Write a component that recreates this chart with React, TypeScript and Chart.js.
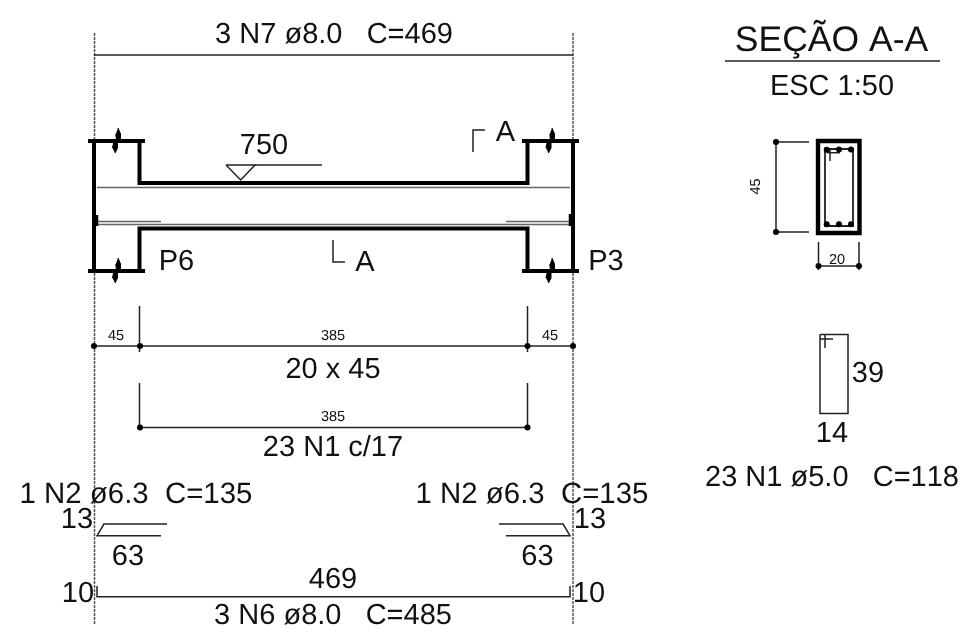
import React, { useEffect, useRef } from "react";
import { Chart, registerables } from "chart.js";

Chart.register(...registerables);

type P = [number, number];

// Drawing geometry, in drawing units of the sheet
const heavyLines: P[][] = [
  [[94, 141], [94, 271]],
  [[88, 141], [145, 141]],
  [[88, 271], [145, 271]],
  [[139.5, 141], [139.5, 183], [527.5, 183], [527.5, 141]],
  [[139.5, 271], [139.5, 228.5], [527.5, 228.5], [527.5, 271]],
  [[573, 141], [573, 271]],
  [[522, 141], [579, 141]],
  [[522, 271], [579, 271]],
];
const columnBreaks: P[][] = [
  [[118, 128], [120.5, 134], [120, 141], [116.5, 141], [115.8, 134]],
  [[115, 153], [117.5, 148], [117.5, 141], [114, 141], [112.5, 148]],
  [[118, 258], [120.5, 264], [120, 271], [116.5, 271], [115.8, 264]],
  [[115, 283], [117.5, 278], [117.5, 271], [114, 271], [112.5, 278]],
  [[552, 128], [554.5, 134], [554, 141], [550.5, 141], [549.8, 134]],
  [[548.5, 153], [551, 148], [551, 141], [547.5, 141], [546, 148]],
  [[552, 258], [554.5, 264], [554, 271], [550.5, 271], [549.8, 264]],
  [[548.5, 283], [551, 278], [551, 271], [547.5, 271], [546, 278]],
];
const rebarLines: P[][] = [
  [[97, 187.5], [570, 187.5]],
  [[97, 224.5], [570, 224.5]],
  [[97, 221.5], [161, 221.5]],
  [[506, 221.5], [570, 221.5]],
];
const rebarHooks: P[][] = [
  [[97, 215], [97, 226]],
  [[570, 214], [570, 226]],
];
const gridAxes: P[][] = [
  [[94.5, 33], [94.5, 624]],
  [[573, 33], [573, 624]],
];
const thinLines: P[][] = [
  [[94, 55], [573, 55]],
  [[226, 165], [255, 165], [240.7, 180], [226, 165]],
  [[255, 165], [322, 165]],
  [[473, 152], [473, 130], [485, 130]],
  [[333, 240], [333, 262], [345, 262]],
  [[94, 346], [573, 346]],
  [[139.5, 306], [139.5, 352]],
  [[527.5, 306], [527.5, 352]],
  [[139.5, 383], [139.5, 428]],
  [[527.5, 383], [527.5, 428]],
  [[139.5, 427.5], [527.5, 427.5]],
  [[167, 524], [104, 524], [97, 535.7], [161, 535.7]],
  [[499, 524], [563, 524], [570, 535.7], [506, 535.7]],
  [[97, 586], [97, 596.7], [570, 596.7], [570, 586]],
  [[725, 61], [940, 61]],
  [[776, 142], [776, 232]],
  [[776, 142], [809, 142]],
  [[776, 232], [809, 232]],
  [[818.5, 242], [818.5, 270]],
  [[859, 242], [859, 270]],
  [[818.5, 266], [859, 266]],
  [[827, 152.7], [840, 152.7]],
  [[830, 149], [830, 161]],
  [[820, 334.5], [848, 334.5], [848, 413.5], [820, 413.5], [820, 334.5]],
  [[820, 339], [833, 339]],
  [[825, 334.5], [825, 348]],
];
const sectionOutline: P[] = [[818, 141], [859.5, 141], [859.5, 233], [818, 233], [818, 141]];
const stirrupOutline: P[] = [[825, 149], [853, 149], [853, 226], [825, 226], [825, 149]];
const dimensionDots: P[] = [
  [94, 346], [140, 346], [527.5, 346], [573, 346], [140, 427.5], [527.5, 427.5],
];
const sectionDots: P[] = [
  [776, 142], [776, 232], [818.5, 266], [859, 266],
  [826.7, 149.7], [839, 149.5], [851, 149.5], [826.7, 224.3], [839, 224.3], [851, 224.3],
];

// Text and where it sits
const labelTexts: string[] = [
  "3 N7 ø8.0   C=469", "750", "A", "A", "P6", "P3", "45", "385", "45", "20 x 45", "385",
  "23 N1 c/17", "1 N2 ø6.3  C=135", "1 N2 ø6.3  C=135", "13", "13", "63", "63", "10", "10",
  "469", "3 N6 ø8.0   C=485", "SEÇÃO A-A", "ESC 1:50", "45", "20", "39", "14", "23 N1 ø5.0   C=118",
];
const labelAnchors: P[] = [
  [334, 33], [264, 144], [505.5, 131], [365, 261], [176.5, 260], [606, 260], [116, 335], [333, 335], [550, 335],
  [333, 368], [333, 416], [333, 446], [136, 492], [532, 492], [77, 518], [590, 518], [128, 555], [537.5, 555],
  [78, 592], [589, 592], [333, 578], [333, 614], [831.5, 38], [832, 85], [755, 186.5], [837, 259], [868, 372],
  [832, 432], [832, 476],
];
const labelSizes: number[] = [
  29, 29, 29, 29, 29, 29, 14.5, 14.5, 14.5, 29, 14.5, 29, 29.4, 29.4, 29, 29, 29, 29, 29, 29, 29, 29, 35.5, 29, 14.5, 14.5, 29, 29, 29,
];
const rotatedLabelIndex = 24;

const INK = "#000000";
const line = (pts: P[], width: number, color = INK, extra: object = {}) => ({
  data: pts.map(([x, y]) => ({ x, y })),
  showLine: true,
  borderColor: color,
  backgroundColor: color,
  borderWidth: width,
  pointRadius: 0,
  tension: 0,
  fill: false,
  borderCapStyle: "butt",
  borderJoinStyle: "miter",
  ...extra,
});

const textPlugin = {
  id: "sheetText",
  afterDatasetsDraw(chart: any) {
    const { ctx, scales } = chart;
    ctx.save();
    ctx.fillStyle = "#111111";
    ctx.textAlign = "center";
    ctx.textBaseline = "alphabetic";
    ctx.fontKerning = "none";
    ctx.textRendering = "geometricPrecision";
    labelTexts.forEach((t, i) => {
      const [x, y] = labelAnchors[i];
      const px = scales.x.getPixelForValue(x);
      const py = scales.y.getPixelForValue(y);
      const size = labelSizes[i];
      const down = size * 0.36;
      ctx.save();
      if (i === rotatedLabelIndex) {
        ctx.translate(px + down, py);
        ctx.rotate(-Math.PI / 2);
      } else {
        ctx.translate(px, py + down);
      }
      ctx.font = `${size}px "Liberation Sans"`;
      ctx.fillText(t, 0, 0);
      ctx.restore();
    });
    ctx.restore();
  },
};

export default function App() {
  const ref = useRef<HTMLCanvasElement>(null);
  useEffect(() => {
    // Chart.js paints the first dataset last, so the order here runs top layer to bottom layer.
    const chart = new Chart(ref.current as HTMLCanvasElement, {
      type: "scatter",
      data: {
        datasets: [
          {
            data: sectionDots.map(([x, y]) => ({ x, y })),
            pointRadius: 3,
            pointBackgroundColor: INK,
            pointBorderWidth: 0,
            showLine: false,
          },
          {
            data: dimensionDots.map(([x, y]) => ({ x, y })),
            pointRadius: 3,
            pointBackgroundColor: INK,
            pointBorderWidth: 0,
            showLine: false,
          },
          line(stirrupOutline, 1.8, "#222222", { borderCapStyle: "square" }),
          line(sectionOutline, 4.4, INK, { borderCapStyle: "square" }),
          ...columnBreaks.map((p) => line(p, 1, INK, { fill: "shape" })),
          ...heavyLines.map((p) => line(p, 4)),
          ...rebarHooks.map((p) => line(p, 2.5)),
          ...thinLines.map((p) => line(p, 1.5, "#222222")),
          ...rebarLines.map((p) => line(p, 1.5, "#666666")),
          ...gridAxes.map((p) => line(p, 1.5, "#555555", { borderDash: [3, 1] })),
        ] as any,
      },
      options: {
        animation: false,
        responsive: false,
        devicePixelRatio: 1,
        layout: { padding: 0, autoPadding: false },
        plugins: { legend: { display: false }, tooltip: { enabled: false } },
        scales: {
          x: { type: "linear", display: false, min: 0, max: 967 },
          y: { type: "linear", display: false, min: 0, max: 639, reverse: true },
        },
      },
      plugins: [textPlugin],
    });
    return () => chart.destroy();
  }, []);
  return (
    <div style={{ position: "absolute", left: 0, top: 0, width: 967, height: 639, background: "#fff" }}>
      <canvas ref={ref} width={967} height={639} style={{ display: "block" }} />
    </div>
  );
}
